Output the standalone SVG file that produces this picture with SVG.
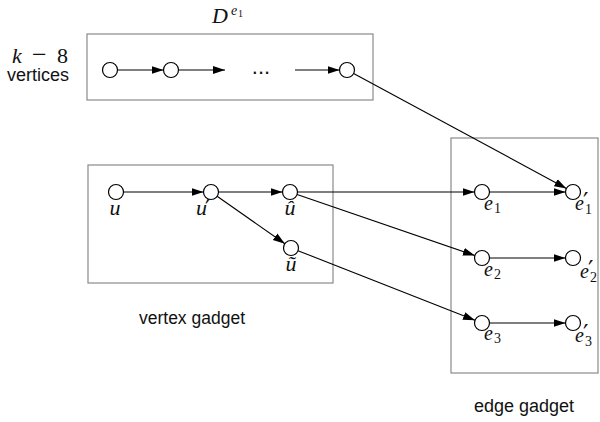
<svg xmlns="http://www.w3.org/2000/svg" width="600" height="422" viewBox="0 0 600 422">
<defs>
<marker id="arr" markerUnits="userSpaceOnUse" markerWidth="12" markerHeight="10" viewBox="0 0 12 10" refX="12" refY="5" orient="auto">
<path d="M0,1 L12,5 L0,9 Z" fill="#000"/>
</marker>
<style>
.box{fill:none;stroke:#8a8a8a;stroke-width:1.2}
.nd{fill:#fff;stroke:#000;stroke-width:1.2}
.e{stroke:#000;stroke-width:1.1;fill:none;marker-end:url(#arr)}
.m{font-family:"Liberation Serif","DejaVu Serif",serif;font-style:italic;font-size:22px;fill:#111}
.up{font-style:normal}
.sb{font-style:normal;font-size:14px}
.pr{font-family:"DejaVu Serif",serif;font-style:normal;font-size:24px}
.t{font-family:"Liberation Sans",Arial,sans-serif;font-size:18px;fill:#111}
</style>
</defs>
<rect width="600" height="422" fill="#fff"/>
<g id="boxes">
<rect class="box" x="87" y="34" width="286" height="66"/>
<rect class="box" x="88" y="165" width="245" height="118"/>
<rect class="box" x="451" y="138" width="147" height="235"/>
</g>
<g id="labels">
<text class="m" x="212" y="23">D<tspan x="231" y="15" style="font-size:14px">e</tspan><tspan class="sb" x="238" y="17" style="font-size:10px">1</tspan></text>
<text class="m" x="12" y="63">k<tspan class="up" x="32" style="font-size:26px">−</tspan><tspan class="up" x="57">8</tspan></text>
<text class="t" x="38" y="81" text-anchor="middle">vertices</text>
<text class="t" x="261" y="74" text-anchor="middle" style="font-size:22px">...</text>
<text class="t" x="192" y="324" text-anchor="middle" style="font-size:17.5px">vertex gadget</text>
<text class="t" x="524" y="412" text-anchor="middle">edge gadget</text>
</g>
<g id="connectors">
<line class="e" x1="118" y1="70" x2="163.5" y2="70"/>
<line class="e" x1="178.5" y1="70" x2="225" y2="70"/>
<line class="e" x1="295" y1="70" x2="339.5" y2="70"/>
<line class="e" x1="353.6" y1="73.6" x2="566.4" y2="188.4"/>
<line class="e" x1="123.5" y1="192" x2="203.5" y2="192"/>
<line class="e" x1="218.5" y1="192" x2="282.5" y2="192"/>
<line class="e" x1="217.1" y1="196.3" x2="284.9" y2="243.7"/>
<line class="e" x1="297.5" y1="192" x2="474.5" y2="192"/>
<line class="e" x1="297.1" y1="194.4" x2="474.9" y2="255.6"/>
<line class="e" x1="298" y1="250.7" x2="475" y2="320.3"/>
<line class="e" x1="489.5" y1="192" x2="565.5" y2="192"/>
<line class="e" x1="489.5" y1="258" x2="565.5" y2="258"/>
<line class="e" x1="489.5" y1="323" x2="565.5" y2="323"/>
</g>
<g id="d1"><circle class="nd" cx="110" cy="70" r="7.5"/></g>
<g id="d2"><circle class="nd" cx="171" cy="70" r="7.5"/></g>
<g id="d3"><circle class="nd" cx="347" cy="70" r="7.5"/></g>
<g id="u"><circle class="nd" cx="116" cy="192" r="7.5"/><text class="m" x="115" y="215" text-anchor="middle">u</text></g>
<g id="u-prime"><circle class="nd" cx="211" cy="192" r="7.5"/><text class="m" x="196" y="215">u<tspan class="pr" x="205" y="217">′</tspan></text></g>
<g id="u-hat"><circle class="nd" cx="290" cy="192" r="7.5"/><text class="m" x="290" y="215" text-anchor="middle">û</text></g>
<g id="u-tilde"><circle class="nd" cx="291" cy="248" r="7.5"/><text class="m" x="291" y="271" text-anchor="middle">ũ</text></g>
<g id="e1"><circle class="nd" cx="482" cy="192" r="7.5"/><text class="m" x="484" y="210" style="font-size:20px">e<tspan class="sb" x="494" y="213">1</tspan></text></g>
<g id="e1p"><circle class="nd" cx="573" cy="192" r="7.5"/><text class="m" x="575" y="210" style="font-size:20px">e<tspan class="pr" x="583" y="210">′</tspan><tspan class="sb" x="585" y="214">1</tspan></text></g>
<g id="e2"><circle class="nd" cx="482" cy="258" r="7.5"/><text class="m" x="484" y="276" style="font-size:20px">e<tspan class="sb" x="494" y="279">2</tspan></text></g>
<g id="e2p"><circle class="nd" cx="573" cy="258" r="7.5"/><text class="m" x="580" y="278" style="font-size:20px">e<tspan class="pr" x="588" y="278">′</tspan><tspan class="sb" x="590" y="282">2</tspan></text></g>
<g id="e3"><circle class="nd" cx="482" cy="323" r="7.5"/><text class="m" x="484" y="340" style="font-size:20px">e<tspan class="sb" x="494" y="343">3</tspan></text></g>
<g id="e3p"><circle class="nd" cx="573" cy="323" r="7.5"/><text class="m" x="575" y="342" style="font-size:20px">e<tspan class="pr" x="583" y="342">′</tspan><tspan class="sb" x="585" y="346">3</tspan></text></g>
</svg>
